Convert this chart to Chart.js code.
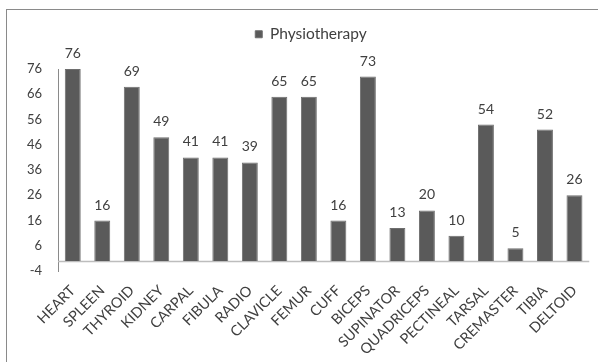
<!DOCTYPE html>
<html>
<head>
<meta charset="utf-8">
<script src="https://cdn.jsdelivr.net/npm/chart.js@4/dist/chart.umd.min.js"></script>
<style>
  html, body { margin: 0; padding: 0; background: #ffffff; }
  #wrap { position: relative; width: 598px; height: 362px; overflow: hidden; }
  #frame { position: absolute; left: 6px; top: 9px; width: 700px; height: 500px;
           border-left: 1.5px solid #8a8a8a; border-top: 1.5px solid #8a8a8a; }
  canvas { position: absolute; left: 0; top: 0; }
</style>
</head>
<body>
<div id="wrap">
  <div id="frame"></div>
  <canvas id="c" width="598" height="362"></canvas>
</div>
<script>
// Muscles / organs and their physiotherapy counts
const categories = ["HEART", "SPLEEN", "THYROID", "KIDNEY", "CARPAL", "FIBULA", "RADIO",
  "CLAVICLE", "FEMUR", "CUFF", "BICEPS", "SUPINATOR", "QUADRICEPS", "PECTINEAL",
  "TARSAL", "CREMASTER", "TIBIA", "DELTOID"];
const physiotherapy = [76, 16, 69, 49, 41, 41, 39, 65, 65, 16, 73, 13, 20, 10, 54, 5, 52, 26];
const yTicks = [-4, 6, 16, 26, 36, 46, 56, 66, 76];

const FONT = "Lato, 'Liberation Sans', sans-serif";
const TEXT = "#404040";

// Legend sits a little right of centre, with extra room below it
const legendPlacement = {
  id: "legendPlacement",
  beforeInit(chart) {
    const fit = chart.legend.fit;
    chart.legend.fit = function () {
      fit.call(this);
      this.height += 17;
    };
  },
  afterLayout(chart) {
    chart.legend.left += 12;
    chart.legend.right += 12;
  }
};

// Horizontal baseline at value 0
const zeroLine = {
  id: "zeroLine",
  beforeDatasetsDraw(chart) {
    const { ctx, chartArea, scales } = chart;
    const y = Math.round(scales.y.getPixelForValue(0)) + 0.5;
    ctx.save();
    ctx.strokeStyle = "#bdbdbd";
    ctx.lineWidth = 1.5;
    ctx.beginPath();
    ctx.moveTo(chartArea.left, y);
    ctx.lineTo(chartArea.right, y);
    ctx.stroke();
    ctx.restore();
  }
};

// Value labels above each bar
const valueLabels = {
  id: "valueLabels",
  afterDatasetsDraw(chart) {
    const { ctx } = chart;
    const meta = chart.getDatasetMeta(0);
    const data = chart.data.datasets[0].data;
    ctx.save();
    ctx.font = "14px " + FONT;
    ctx.fillStyle = TEXT;
    ctx.textAlign = "center";
    ctx.textBaseline = "alphabetic";
    meta.data.forEach((bar, i) => {
      ctx.fillText(String(data[i]), bar.x, bar.y - 11);
    });
    ctx.restore();
  }
};

new Chart(document.getElementById("c"), {
  type: "bar",
  data: {
    labels: categories,
    datasets: [{
      label: "Physiotherapy",
      data: physiotherapy,
      backgroundColor: "#5a5a5a",
      borderColor: "#6e6e6e",
      borderWidth: 1,
      barPercentage: 0.54,
      categoryPercentage: 1.0,
      base: 0
    }]
  },
  options: {
    responsive: false,
    animation: false,
    devicePixelRatio: 1,
    layout: { padding: { left: 8, right: 8, top: 18.5, bottom: 0 } },
    plugins: {
      legend: {
        display: true,
        position: "top",
        labels: {
          boxWidth: 7,
          boxHeight: 7,
          padding: 8,
          color: TEXT,
          font: { family: FONT, size: 15.5 }
        }
      },
      tooltip: { enabled: false }
    },
    scales: {
      x: {
        grid: { display: false, drawTicks: false },
        border: { display: false },
        ticks: {
          color: TEXT,
          font: { family: FONT, size: 14.5 },
          minRotation: 45,
          maxRotation: 45,
          autoSkip: false,
          padding: 11
        },
        afterFit(scale) { scale.height = 91; }
      },
      y: {
        min: -4,
        max: 76,
        grid: { display: false, drawTicks: false },
        border: { display: true, color: "#8a8a8a", width: 1 },
        ticks: {
          color: TEXT,
          font: { family: FONT, size: 13 },
          padding: 16
        },
        afterBuildTicks(scale) {
          scale.ticks = yTicks.map(v => ({ value: v }));
        },
        afterFit(scale) { scale.width = 50; }
      }
    }
  },
  plugins: [legendPlacement, zeroLine, valueLabels]
});
</script>
</body>
</html>
